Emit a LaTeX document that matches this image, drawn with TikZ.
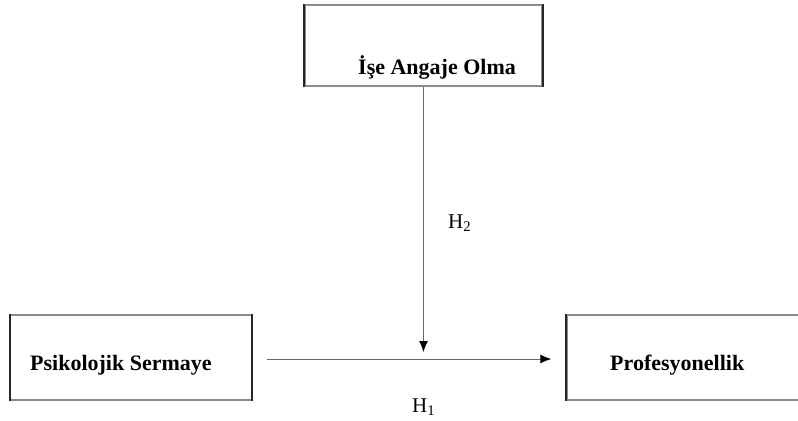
\documentclass[tikz,border=0pt]{standalone}
\usepackage{fontspec}
\setmainfont{Liberation Serif}
\usetikzlibrary{arrows.meta}

\begin{document}
\begin{tikzpicture}
[x=1bp,y=-1bp,
  boxdecorate/.style={draw=black!45,line width=1.3bp,inner sep=0pt},%
  sidedecorate/.style={draw=black!85,line width=2.2bp},%
  textdecorate/.style={font=\fontsize{22bp}{26bp}\selectfont\bfseries,inner sep=0pt,anchor=base west},%
  hdecorate/.style={font=\fontsize{21bp}{25bp}\selectfont,inner sep=0pt,anchor=base west},%
  linedecorate/.style={-{Latex[length=11bp,width=9bp,black]},line width=1bp,draw=black!60}]
\clip (0,0) rectangle (798,420);
%% boxes
\foreach \nodename/\x/\y/\w/\h in {ise/423.5/45.5/237/81, psikolojik/131/357.5/241/85,
  profesyonel/684/357.5/234/85} {
  \node (\nodename) at (\x,\y) [boxdecorate,minimum width=\w bp,minimum height=\h bp] {};
  \draw[sidedecorate] (\nodename.north west) -- (\nodename.south west)
    (\nodename.north east) -- (\nodename.south east);
}
%% texts
\node (isetext) at (358,74) [textdecorate] {İşe Angaje Olma};
\node (psikolojiktext) at (30,370) [textdecorate] {Psikolojik Sermaye};
\node (profesyoneltext) at (610,370) [textdecorate] {Profesyonellik};
\node (h2) at (448,228) [hdecorate] {H\textsubscript{2}};
\node (h1) at (412,412) [hdecorate] {H\textsubscript{1}};
%% arrows
\coordinate (meet) at (423.5,352);
\draw[linedecorate] (ise.south) -- (meet);
\draw[linedecorate,shorten <=15bp,shorten >=15bp] ([yshift=-1.5bp]psikolojik.east) -- ([yshift=-1.5bp]profesyonel.west);
\end{tikzpicture}
\end{document}
